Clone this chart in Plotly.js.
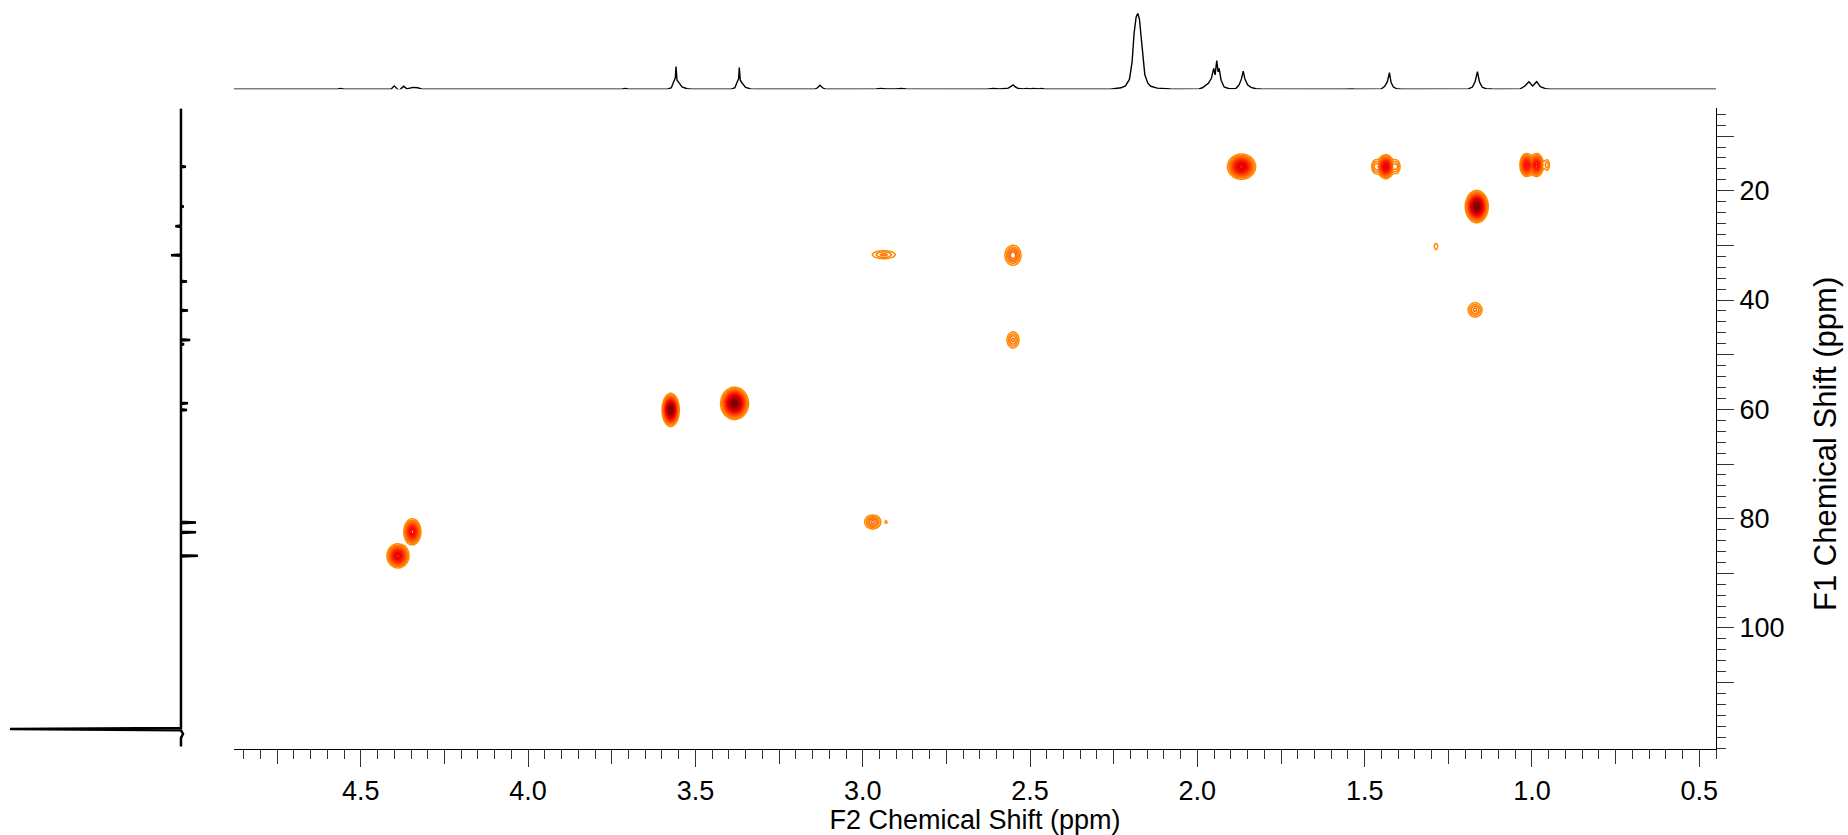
<!DOCTYPE html>
<html><head><meta charset="utf-8">
<script src="https://cdn.plot.ly/plotly-3.0.1.min.js"></script>
<style>html,body{margin:0;padding:0;background:#fff;} #chart{width:1848px;height:835px;}</style>
</head><body><div id="chart"></div>
<script>
// ---- 1H spectrum (top trace): chemical shift (ppm) and relative intensity ----
const h1Ppm = [4.879,4.57,4.56,4.55,4.41,4.400,4.388,4.382,4.372,4.362,4.345,4.33,4.315,3.72,3.71,3.70,
  3.585,3.572,3.565,3.56,3.558,3.555,3.55,3.54,3.525,3.51,
  3.395,3.382,3.375,3.371,3.369,3.366,3.36,3.35,3.335,3.32,
  3.145,3.135,3.128,3.12,3.11,3.0,2.99,2.96,2.946,2.93,2.90,2.885,2.87,2.85,2.84,2.83,
  2.63,2.61,2.59,2.565,2.555,2.55,2.545,2.535,2.52,2.51,2.50,2.49,2.475,2.465,2.455,
  2.26,2.245,2.228,2.215,2.203,2.195,2.189,2.183,2.178,2.173,2.169,2.163,2.157,2.148,2.139,2.12,2.10,2.08,2.06,
  2.005,1.995,1.985,1.967,1.958,1.951,1.947,1.942,1.938,1.935,1.929,1.92,1.905,1.895,
  1.885,1.875,1.868,1.863,1.858,1.85,1.84,1.825,1.81,
  1.56,1.545,1.537,1.53,1.49,1.479,1.47,
  1.45,1.44,1.432,1.426,1.421,1.414,1.405,1.39,
  1.29,1.276,1.265,1.225,1.218,1.21,
  1.19,1.178,1.17,1.163,1.157,1.149,1.138,1.12,1.10,
  1.035,1.022,1.009,0.998,0.986,0.975,0.96,0.945,0.45];
const h1Int = [0,0,0.012,0,0,0.045,-0.008,0.0,0.04,0.005,0.025,0.02,0,0,0.012,0,
  0,0.02,0.1,0.15,0.30,0.12,0.09,0.03,0.008,0,
  0,0.02,0.1,0.14,0.285,0.12,0.08,0.025,0.005,0,
  0,0.02,0.053,0.02,0,0,0.006,0.004,0.012,0.004,0.004,0.01,0.004,0.003,0.008,0,
  0,0.01,0.004,0.015,0.04,0.057,0.035,0.01,0.006,0.012,0.005,0.012,0.004,0.012,0,
  0,0.01,0.02,0.045,0.13,0.36,0.74,0.95,1.0,0.92,0.74,0.38,0.19,0.08,0.04,0.016,0.007,0.003,0,
  0,0.005,0.02,0.079,0.145,0.276,0.19,0.377,0.23,0.276,0.12,0.03,0.008,0.005,
  0.01,0.06,0.14,0.24,0.14,0.06,0.025,0.008,0.003,
  0,0.006,0.003,0,0,0.006,0,
  0.005,0.04,0.1,0.22,0.09,0.03,0.008,0,
  0,0.007,0,0,0.008,0,
  0.005,0.03,0.1,0.233,0.1,0.03,0.008,0.003,0,
  0.005,0.04,0.10,0.045,0.10,0.035,0.008,0,0];

// ---- 13C projection (left trace): shift (ppm) and intensity ----
const c13Ppm = [4.95,15.48,15.6,15.72,22.78,22.9,23.02,26.38,26.5,26.62,31.68,31.8,31.92,36.48,36.6,36.72,
  41.78,41.9,42.02,47.18,47.3,47.42,47.98,48.1,48.22,58.78,58.9,59.02,59.98,60.1,60.22,
  80.58,80.7,80.82,82.38,82.5,82.62,86.68,86.8,86.92,118.3,118.5,118.7,119.4,120.1,121.7];
const c13Int = [0,0,2.9,0,0,1.6,0,0,-3.3,0,0,-5.8,0,0,3.5,0,
  0,4.1,0,0,5.4,0,0,1.8,0,0,4.1,0,0,3.5,0,
  0,8.8,0,0,8.8,0,0,9.9,0,0,-100,0,1.2,0,0];

// ---- HSQC cross peaks: F2 (1H ppm), F1 (13C ppm), intensity, widths (ppm) ----
const pkH   = [1.868,1.437,1.468,1.405,1.016,0.986,0.955,1.165,1.287,2.551,2.551,2.937,2.970,2.930,4.346,4.389,3.574,3.383,1.170];
const pkC   = [15.6, 15.6, 15.6, 15.6, 15.3, 15.3, 15.3, 22.9, 30.2, 31.8, 47.3, 31.7, 80.6, 80.6, 82.4, 86.8, 60.1, 58.9, 41.8];
const pkAmp = [0.60, 0.55, 0.12, 0.12, 0.45, 0.45, 0.10, 1.00, 0.07, 0.20, 0.15, 0.12, 0.18, 0.06, 0.50, 0.55, 1.00, 1.00, 0.15];
const pkWH  = [0.0188,0.011,0.008,0.008,0.0095,0.0095,0.006,0.014,0.006,0.0144,0.012,0.026,0.015,0.004,0.0118,0.015,0.0104,0.017,0.014];
const pkWC  = [1.03, 1.0, 0.9, 0.9, 1.0, 1.0, 0.8, 1.2, 0.7, 1.1, 0.99, 0.55, 0.8, 0.4, 1.1, 1.0, 1.23, 1.2, 0.87];

// ---- tick labels ----
const xTickVals = [4.5,4.0,3.5,3.0,2.5,2.0,1.5,1.0,0.5];
const xTickText = ['4.5','4.0','3.5','3.0','2.5','2.0','1.5','1.0','0.5'];
const xMidTicks = [4.75,4.25,3.75,3.25,2.75,2.25,1.75,1.25,0.75];
const yTickVals = [10,20,30,40,50,60,70,80,90,100,110];
const yTickText = ['','20','','40','','60','','80','','100',''];

// ---- build the 2D intensity grid from the peak list ----
const gx = [], gy = [];
for (let i = 0; i <= 887; i++) gx.push(+(0.90 + i*0.004).toFixed(4));
for (let j = 0; j <= 234; j++) gy.push(+(10 + j*0.35).toFixed(3));
const gz = gy.map(yv => gx.map(xv => {
  let s = 0;
  for (let k = 0; k < pkH.length; k++) {
    const dx = (xv - pkH[k]) / pkWH[k], dy = (yv - pkC[k]) / pkWC[k];
    const r2 = dx*dx + dy*dy;
    if (r2 < 50) s += pkAmp[k] * Math.exp(-0.5*r2);
  }
  return s;
}));

const FONT = 'Liberation Sans, Arial, sans-serif';
const xr = [4.879, 0.450];
const yr = [122.2, 4.92];
const xDom = [234/1848, 1716/1848];
const yDom = [(835-749.3)/835, (835-108.3)/835];

const traces = [
  {type:'contour', x:gx, y:gy, z:gz, xaxis:'x', yaxis:'y', showscale:false,
   autocontour:false, contours:{start:0.05, end:1.0, size:0.03, coloring:'lines'},
   line:{width:1.5, smoothing:0.6},
   colorscale:[[0,'#FF8C00'],[0.1,'#FF6A00'],[0.28,'#FF2A00'],[0.48,'#EE0000'],[0.7,'#C00000'],[1,'#780000']],
   zmin:0.05, zmax:1.0, zauto:false, hoverinfo:'skip'},
  {type:'scatter', mode:'lines', x:h1Ppm, y:h1Int, xaxis:'x2', yaxis:'y2',
   line:{color:'#000', width:1.4}, hoverinfo:'skip'},
  {type:'scatter', mode:'lines', x:c13Int, y:c13Ppm, xaxis:'x3', yaxis:'y',
   line:{color:'#000', width:2.5}, hoverinfo:'skip'},
  {type:'scatter', mode:'lines', x:[], y:[], xaxis:'x4', yaxis:'y', hoverinfo:'skip'}
];

const layout = {
  width:1848, height:835, margin:{l:0,r:0,t:0,b:0,pad:0},
  paper_bgcolor:'#fff', plot_bgcolor:'rgba(0,0,0,0)', showlegend:false,
  font:{family:FONT, color:'#000'},
  xaxis:{domain:xDom, range:xr, anchor:'y', side:'bottom', showline:true, linecolor:'#000', linewidth:1,
    ticks:'outside', ticklen:17, tickwidth:1, tickcolor:'#333', tickmode:'array',
    tickvals:xTickVals, ticktext:xTickText, tickfont:{family:FONT, size:27, color:'#000'},
    minor:{tickmode:'linear', tick0:0, dtick:0.05, ticks:'outside', ticklen:9, tickwidth:1, tickcolor:'#333', showgrid:false},
    showgrid:false, zeroline:false,
    title:{text:'F2 Chemical Shift (ppm)', font:{family:FONT, size:27, color:'#000'}, standoff:1}},
  xaxis4:{overlaying:'x', range:xr, anchor:'y', side:'bottom', showline:false, ticks:'outside', ticklen:14,
    tickwidth:1, tickcolor:'#333', tickmode:'array', tickvals:xMidTicks, showticklabels:false,
    showgrid:false, zeroline:false},
  yaxis:{domain:yDom, range:yr, anchor:'x', side:'right', showline:true, linecolor:'#000', linewidth:1,
    ticks:'outside', ticklen:17, tickwidth:1, tickcolor:'#333', tickmode:'array',
    tickvals:yTickVals, ticktext:yTickText, tickfont:{family:FONT, size:27, color:'#000'},
    minor:{tickmode:'linear', tick0:0, dtick:2, ticks:'outside', ticklen:9, tickwidth:1, tickcolor:'#333', showgrid:false},
    showgrid:false, zeroline:false},
  xaxis2:{domain:xDom, range:xr, anchor:'y2', visible:false},
  yaxis2:{domain:[(835-89.3)/835, (835-13.3)/835], range:[0,1], anchor:'x2', visible:false},
  xaxis3:{domain:[0, 234/1848], range:[-105.8, 31], anchor:'y', visible:false},
  annotations:[{text:'F1 Chemical Shift (ppm)', textangle:-90, xref:'paper', yref:'paper',
    x:1825/1848, y:(835-444)/835, xanchor:'center', yanchor:'middle', showarrow:false,
    font:{family:FONT, size:31, color:'#000'}}]
};

Plotly.newPlot('chart', traces, layout, {displayModeBar:false, staticPlot:true});
</script></body></html>
